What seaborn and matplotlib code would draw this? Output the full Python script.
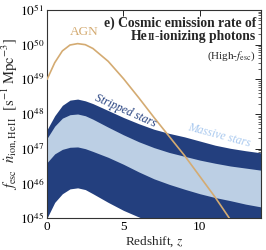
import numpy as np
import pandas as pd
import matplotlib
matplotlib.use("Agg")
import matplotlib.pyplot as plt
import seaborn as sns
from matplotlib.ticker import LogLocator, NullFormatter, FixedLocator, MultipleLocator
from matplotlib.offsetbox import TextArea, HPacker, AnchoredOffsetbox

# ---- data (log10 of emission rate) ----
z_grid = [0, 0.5, 1, 1.5, 2, 2.5, 3, 4, 5, 6, 7, 8, 9, 10, 11, 12, 13, 14]
stripped_upper = [47.55, 47.95, 48.25, 48.40, 48.43, 48.38, 48.30, 48.10, 47.90, 47.72, 47.56, 47.44, 47.34, 47.22, 47.10, 47.01, 46.94, 46.88]
massive_upper = [47.30, 47.65, 47.88, 47.98, 48.00, 47.95, 47.85, 47.62, 47.40, 47.20, 47.03, 46.89, 46.78, 46.67, 46.58, 46.50, 46.44, 46.38]
massive_lower = [46.60, 46.85, 46.98, 47.04, 47.05, 47.00, 46.92, 46.75, 46.55, 46.33, 46.13, 45.97, 45.83, 45.70, 45.59, 45.50, 45.40, 45.32]
stripped_lower = [45.00, 45.45, 45.70, 45.84, 45.87, 45.82, 45.70, 45.45, 45.22, 45.03, 44.85, 44.70, 44.58, 44.47, 44.37, 44.28, 44.20, 44.12]

z_agn = [0, 0.5, 1, 1.5, 2, 2.5, 3, 4, 5, 6, 7, 8, 9, 10, 11, 12, 12.5]
agn_log = [49.00, 49.48, 49.82, 49.99, 50.03, 50.00, 49.89, 49.52, 49.02, 48.47, 47.90, 47.35, 46.80, 46.20, 45.60, 44.95, 44.60]

x_ticks = [0, 5, 10]
y_decades = [45, 46, 47, 48, 49, 50, 51]

DARK = "#233f7e"
LIGHT = "#bccfe4"
TAN = "#d4ab72"

sns.set_theme(style="white")
plt.rcParams["font.family"] = ["Liberation Serif", "DejaVu Serif"]
plt.rcParams["mathtext.fontset"] = "stix"

fig = plt.figure(figsize=(2.66, 2.5), dpi=100)
ax = fig.add_axes([0.177, 0.128, 0.804, 0.832])

bands = pd.DataFrame({
    "z": z_grid,
    "su": np.power(10.0, stripped_upper),
    "sl": np.power(10.0, stripped_lower),
    "mu": np.power(10.0, massive_upper),
    "ml": np.power(10.0, massive_lower),
})
agn = pd.DataFrame({"z": z_agn, "rate": np.power(10.0, agn_log)})

ax.fill_between(bands["z"], bands["sl"], bands["su"], color=DARK, lw=0, zorder=1)
ax.fill_between(bands["z"], bands["ml"], bands["mu"], color=LIGHT, lw=0, zorder=2)
sns.lineplot(data=agn, x="z", y="rate", ax=ax, color=TAN, lw=1.2, zorder=3)

ax.set_yscale("log")
ax.set_xlim(0, 14)
ax.set_ylim(1e45, 1e51)
ax.xaxis.set_major_locator(FixedLocator(x_ticks))
ax.xaxis.set_minor_locator(MultipleLocator(1))
ax.set_xticklabels([str(t) for t in x_ticks])
ax.yaxis.set_major_locator(FixedLocator([10.0**d for d in y_decades]))
ax.set_yticklabels([r"$10^{%d}$" % d for d in y_decades])
ax.yaxis.set_minor_locator(LogLocator(base=10, subs=np.arange(2, 10)))
ax.yaxis.set_minor_formatter(NullFormatter())

ax.tick_params(axis="both", which="major", direction="in", length=4, width=0.7,
               top=True, right=True, labelsize=9.5, pad=2, colors="#222222", labelcolor="black")
ax.tick_params(axis="both", which="minor", direction="in", length=2, width=0.5,
               top=False, right=True)
ax.tick_params(axis="x", which="minor", length=0)
for s in ax.spines.values():
    s.set_color("#333333")
    s.set_linewidth(0.8)

ax.set_xlabel(r"Redshift, $z$", fontsize=9.5, labelpad=1)
ax.set_ylabel(r"$f_{\rm esc}\ \ \dot{n}_{\rm ion,He\,II}\ \ [{\rm s^{-1}\ Mpc^{-3}}]$",
              fontsize=10.5, labelpad=0)

ax.text(0.98, 0.935, "e) Cosmic emission rate of", transform=ax.transAxes,
        ha="right", va="center", fontsize=9.8, fontweight="bold")
line2 = HPacker(children=[
    TextArea("He", textprops=dict(fontsize=9.8, fontweight="bold")),
    TextArea("II", textprops=dict(fontsize=7.2, fontweight="bold")),
    TextArea("-ionizing photons", textprops=dict(fontsize=9.8, fontweight="bold")),
], align="baseline", pad=0, sep=0)
ab = AnchoredOffsetbox(loc="upper right", child=line2, pad=0, borderpad=0, frameon=False,
                       bbox_to_anchor=(0.975, 0.905), bbox_transform=ax.transAxes)
ax.add_artist(ab)
ax.text(0.975, 0.78, r"(High-$f_{\rm esc}$)", transform=ax.transAxes,
        ha="right", va="center", fontsize=8)

ax.text(2.4, 10**50.37, "AGN", color=TAN, fontsize=9.5, ha="center", va="center")
ax.text(5.15, 10**48.1, "Stripped stars", color=DARK, fontsize=8.5, style="italic",
        ha="center", va="center", rotation=-24)
ax.text(11.25, 10**47.38, "Massive stars", color="#a9c9ef", fontsize=8.5, style="italic",
        ha="center", va="center", rotation=-15)

fig.savefig("out.png", dpi=100)
